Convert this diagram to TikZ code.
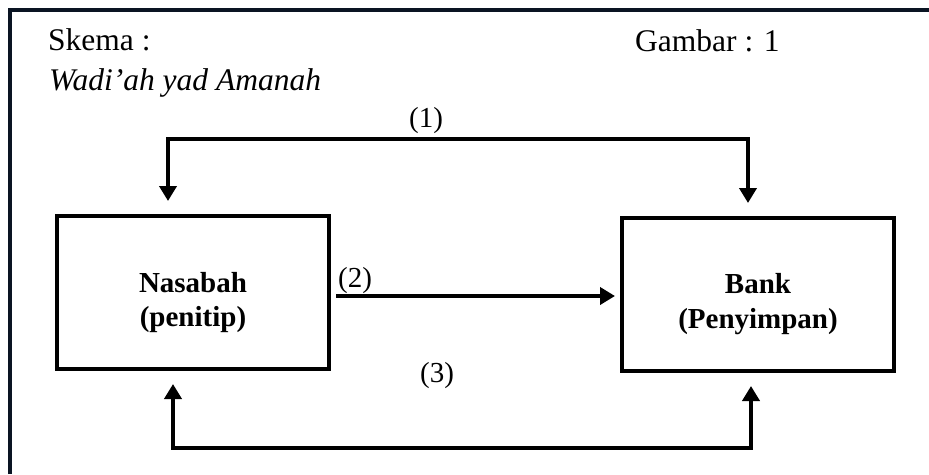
\documentclass[tikz,border=0pt]{standalone}
\usepackage{fontspec}
\setmainfont{Liberation Serif}
\usetikzlibrary{arrows.meta}
\definecolor{framecol}{RGB}{10,20,35}
\begin{document}
\begin{tikzpicture}[x=1pt,y=-1pt,
  box/.style={draw=black, line width=4pt, minimum width=272pt, minimum height=153pt, inner sep=0pt},
  lbl/.style={font=\fontsize{29}{34}\selectfont\bfseries, inner sep=0pt, anchor=base},
  num/.style={font=\fontsize{29}{34}\selectfont, inner sep=0pt},
  head/.style={font=\fontsize{31.5}{36}\selectfont, inner sep=0pt, anchor=base west},
  conn/.style={line width=3.8pt, line join=miter},
  arr/.style={conn, -{Triangle[length=15pt,width=17pt]}},
  darr/.style={conn, {Triangle[length=15pt,width=17pt]}-{Triangle[length=15pt,width=17pt]}}
]
\useasboundingbox (0,0) rectangle (929,474);
% outer frame (only top and left visible)
\draw[framecol, line width=4pt] (10,474) -- (10,10) -- (929,10);

% header texts
\node[head] (skema) at (48,50) {Skema :};
\node[head] (gambar) at (635,51) {Gambar : 1};
\node[head] (wadiah) at (49,90) {\itshape Wadi’ah yad Amanah};

% boxes
\node[box] (nas) at (193,292.5) {};
\node[box] (bank) at (758,294.5) {};
\node[lbl] (nas1) at (193,292) {Nasabah};
\node[lbl] (nas2) at (193,326) {(penitip)};
\node[lbl] (bank1) at (758,293) {Bank};
\node[lbl] (bank2) at (758,328) {(Penyimpan)};

% connector coordinates
\coordinate (t1) at (168,201);
\coordinate (c1) at (168,139);
\coordinate (c2) at (748,139);
\coordinate (t2) at (748,203);
\coordinate (m1) at (336,296);
\coordinate (m2) at (615,296);
\coordinate (b1) at (173,384);
\coordinate (d1) at (173,448);
\coordinate (d2) at (751,448);
\coordinate (b2) at (751,386);

\draw[darr] (t1) -- (c1) -- (c2) -- (t2);
\draw[arr] (m1) -- (m2);
\draw[darr] (b1) -- (d1) -- (d2) -- (b2);

% labels
\node[num] (l1) at (426,121) {(1)};
\node[num] (l2) at (355,281) {(2)};
\node[num] (l3) at (437,376) {(3)};
\end{tikzpicture}
\end{document}
